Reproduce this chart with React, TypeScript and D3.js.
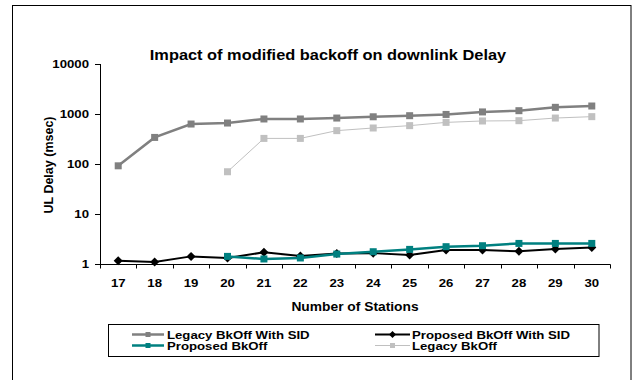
import React from "react";
import * as d3 from "d3";

const categories = ["17","18","19","20","21","22","23","24","25","26","27","28","29","30"];
const legacySID: (number|null)[] = [92,340,630,660,795,795,830,880,925,980,1100,1165,1360,1445];
const legacy: (number|null)[] = [null,null,null,70,325,325,465,525,585,680,725,735,830,885];
const proposedSID: (number|null)[] = [1.16,1.1,1.42,1.32,1.71,1.45,1.63,1.65,1.51,1.9,1.9,1.79,2.0,2.15];
const proposed: (number|null)[] = [null,null,null,1.42,1.26,1.32,1.58,1.76,1.96,2.22,2.32,2.58,2.58,2.58];
const yTicks = [1,10,100,1000,10000];
const seriesNames = ["Legacy BkOff With SID","Proposed BkOff With SID","Proposed BkOff","Legacy BkOff"];

const FONT = "Arial, 'Liberation Sans', Helvetica, sans-serif";

function T({x,y,size,anchor="start",sx=1.2,children}:{x:number;y:number;size:number;anchor?:string;sx?:number;children:any}) {
  return (
    <text transform={`translate(${x},${y}) scale(${sx},1)`} fontSize={size} fontWeight="bold" fontFamily={FONT} textAnchor={anchor as any} fill="#000">{children}</text>
  );
}

export default function App() {
  const x = d3.scaleBand<string>().domain(categories).range([100,610]).padding(0);
  const y = d3.scaleLog().domain([1,10000]).range([264,64]);
  const cx = (c:string) => (x(c) as number) + x.bandwidth()/2;
  const line = d3.line<[string, number|null]>()
    .defined(d => d[1] != null)
    .x(d => cx(d[0]))
    .y(d => y(d[1] as number));
  const pts = (arr:(number|null)[]) => categories.map((c,i)=>[c,arr[i]] as [string,number|null]);
  const square = (arr:(number|null)[], color:string, s:number) =>
    pts(arr).filter(d=>d[1]!=null).map((d,i)=>(
      <rect key={i} x={cx(d[0])-s/2} y={y(d[1] as number)-s/2} width={s} height={s} fill={color}/>
    ));
  const diamonds = (arr:(number|null)[], color:string, s:number) =>
    pts(arr).filter(d=>d[1]!=null).map((d,i)=>{
      const px=cx(d[0]), py=y(d[1] as number);
      return <path key={i} d={`M${px},${py-s}L${px+s},${py}L${px},${py+s}L${px-s},${py}Z`} fill={color}/>;
    });
  const edges = categories.map(c=>x(c) as number).concat([610]);

  return (
    <svg width={633} height={380} style={{position:"absolute",left:0,top:0,background:"#fff"}}>
      <rect x={0} y={0} width={633} height={380} fill="#fff"/>
      <rect x={12.5} y={5.5} width={618.5} height={420} fill="none" stroke="#000" strokeWidth={1}/>
      <T x={328} y={59.5} size={14} anchor="middle" sx={1.17}>Impact of modified backoff on downlink Delay</T>
      {/* y axis */}
      <line x1={100.5} x2={100.5} y1={64} y2={268} stroke="#000" strokeWidth={1}/>
      {yTicks.map(t=>(
        <g key={t}>
          <line x1={95} x2={100.5} y1={Math.round(y(t))+0.5} y2={Math.round(y(t))+0.5} stroke="#000"/>
          <T x={89} y={y(t)+4} size={11} anchor="end">{d3.format("d")(t)}</T>
        </g>
      ))}
      {/* x axis */}
      <line x1={100} x2={610.5} y1={264.5} y2={264.5} stroke="#000" strokeWidth={1}/>
      {edges.map((e,i)=>(
        <line key={i} x1={Math.round(e)+0.5} x2={Math.round(e)+0.5} y1={264.5} y2={268.5} stroke="#000"/>
      ))}
      {categories.map(c=>(
        <T key={c} x={cx(c)} y={287} size={11} anchor="middle">{c}</T>
      ))}
      <T x={355} y={311} size={12} anchor="middle" sx={1.15}>Number of Stations</T>
      <text transform="translate(53,165) rotate(-90)" fontSize={12.5} fontWeight="bold" fontFamily={FONT} textAnchor="middle">UL Delay (msec)</text>

      {/* series */}
      <path d={line(pts(legacySID)) as string} fill="none" stroke="#808080" strokeWidth={2.5}/>
      {square(legacySID,"#808080",7)}
      <path d={line(pts(proposedSID)) as string} fill="none" stroke="#000" strokeWidth={2}/>
      {diamonds(proposedSID,"#000",4.5)}
      <path d={line(pts(proposed)) as string} fill="none" stroke="#008080" strokeWidth={2.5}/>
      {square(proposed,"#008080",7)}
      <path d={line(pts(legacy)) as string} fill="none" stroke="#c0c0c0" strokeWidth={1}/>
      {square(legacy,"#c0c0c0",7)}

      {/* legend */}
      <rect x={108.5} y={324.5} width={490.5} height={32} fill="#fff" stroke="#000" strokeWidth={1}/>
      <line x1={132} x2={164} y1={334.5} y2={334.5} stroke="#808080" strokeWidth={2.5}/>
      <rect x={145.5} y={332} width={5} height={5} fill="#808080"/>
      <T x={167} y={338.5} size={11}>{seriesNames[0]}</T>
      <line x1={132} x2={164} y1={345.5} y2={345.5} stroke="#008080" strokeWidth={2.5}/>
      <rect x={145.5} y={343} width={5} height={5} fill="#008080"/>
      <T x={167} y={350} size={11}>{seriesNames[2]}</T>
      <line x1={375} x2={410} y1={334.5} y2={334.5} stroke="#000" strokeWidth={2}/>
      <path d="M392.5,331L396,334.5L392.5,338L389,334.5Z" fill="#000"/>
      <T x={412} y={338.5} size={11}>{seriesNames[1]}</T>
      <line x1={375} x2={410} y1={345.5} y2={345.5} stroke="#c0c0c0" strokeWidth={1}/>
      <rect x={390} y={343} width={5} height={5} fill="#c0c0c0"/>
      <T x={412} y={350} size={11}>{seriesNames[3]}</T>
    </svg>
  );
}
